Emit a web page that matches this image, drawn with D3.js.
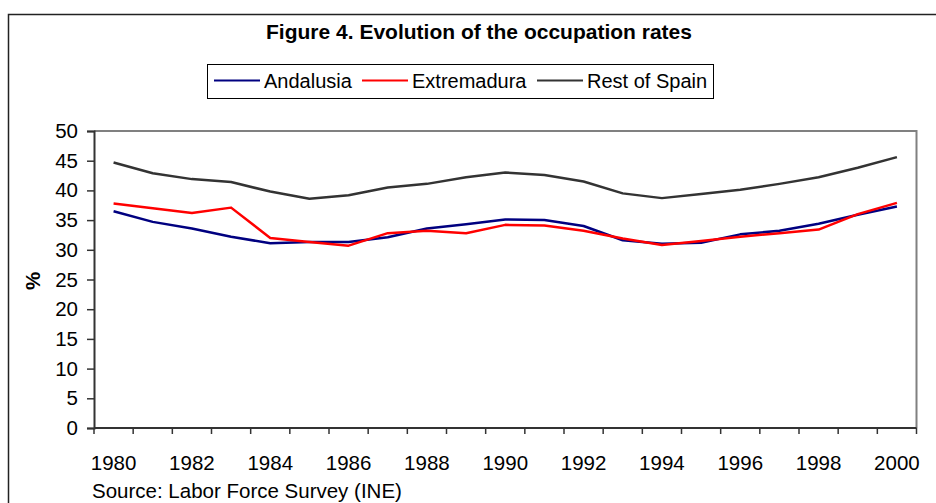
<!DOCTYPE html>
<html><head><meta charset="utf-8">
<script src="https://cdn.jsdelivr.net/npm/d3@7/dist/d3.min.js"></script>
<style>body{margin:0;background:#fff}svg{display:block;font-family:"Liberation Sans",Arial,sans-serif}</style>
</head><body><svg id="c" width="936" height="503"></svg>
<script>
const years = d3.range(1980, 2001);
const andalusia   = [36.5,34.7,33.6,32.2,31.1,31.3,31.3,32.1,33.6,34.3,35.1,35.0,34.0,31.6,31.0,31.2,32.6,33.2,34.4,35.9,37.3];
const extremadura = [37.8,37.0,36.2,37.1,32.0,31.3,30.7,32.8,33.2,32.8,34.2,34.1,33.2,31.9,30.8,31.5,32.2,32.8,33.4,36.0,37.9];
const restOfSpain = [44.7,42.9,41.9,41.4,39.8,38.6,39.2,40.5,41.1,42.2,43.0,42.6,41.5,39.5,38.7,39.4,40.1,41.1,42.2,43.8,45.6];
const yTicks = [0,5,10,15,20,25,30,35,40,45,50];
const xLabels = [1980,1982,1984,1986,1988,1990,1992,1994,1996,1998,2000];
const seriesNames = ["Andalusia","Extremadura","Rest of Spain"];
const seriesColors = ["#000080","#ff0000","#333333"];
const seriesData = [andalusia, extremadura, restOfSpain];

const FS = 20.5;
const svg = d3.select("#c");
// outer frame
svg.append("rect").attr("x",8.5).attr("y",14.5).attr("width",1000).attr("height",600)
  .attr("fill","#fff").attr("stroke","#222").attr("stroke-width",1.5);

const L=94, R=916.5, T=131, B=428;
const x = d3.scaleBand().domain(years).range([L,R]);
const y = d3.scaleLinear().domain([0,50]).range([B,T]);

// plot border top/right gray
svg.append("path").attr("d",`M${L},${T}H${R}V${B}`).attr("fill","none").attr("stroke","#808080").attr("stroke-width",2);

// y axis
const ya = svg.append("g").attr("transform",`translate(${L},0)`)
  .call(d3.axisLeft(y).tickValues(yTicks).tickSize(7).tickPadding(9).tickFormat(d3.format("d")));
ya.select(".domain").attr("stroke","#333").attr("stroke-width",2);
ya.selectAll(".tick line").attr("stroke","#333").attr("stroke-width",1.5);
ya.selectAll("text").attr("font-size",FS).attr("fill","#000").attr("font-family","Liberation Sans, Arial, sans-serif");

// x axis: ticks at band edges
const xa = svg.append("g").attr("transform",`translate(0,${B})`);
xa.append("line").attr("x1",L).attr("x2",R).attr("stroke","#333").attr("stroke-width",2);
const edges = years.map(d=>x(d)).concat([x(years[years.length-1])+x.bandwidth()]);
xa.selectAll("line.t").data(edges).join("line").attr("class","t")
  .attr("x1",d=>d).attr("x2",d=>d).attr("y1",0).attr("y2",6).attr("stroke","#333").attr("stroke-width",1.5);
xa.selectAll("text").data(xLabels).join("text")
  .attr("x",d=>x(d)+x.bandwidth()/2).attr("y",42).attr("text-anchor","middle")
  .attr("font-size",FS).attr("fill","#000").text(d=>d);

// lines
const line = d3.line().x((d,i)=>x(years[i])+x.bandwidth()/2).y(d=>y(d));
seriesData.forEach((s,k)=>{
  svg.append("path").datum(s).attr("d",line).attr("fill","none")
    .attr("stroke",seriesColors[k]).attr("stroke-width",2.5).attr("stroke-linejoin","round");
});

// title
svg.append("text").attr("x",479).attr("y",39).attr("text-anchor","middle")
  .attr("font-size",21).attr("font-weight","bold").text("Figure 4. Evolution of the occupation rates");

// legend
svg.append("rect").attr("x",207.5).attr("y",64.5).attr("width",506).attr("height",34)
  .attr("fill","#fff").attr("stroke","#000").attr("stroke-width",1);
const legX = [214,362,537];
seriesNames.forEach((n,k)=>{
  svg.append("line").attr("x1",legX[k]).attr("x2",legX[k]+46).attr("y1",80.5).attr("y2",80.5)
    .attr("stroke",seriesColors[k]).attr("stroke-width",2);
  svg.append("text").attr("x",legX[k]+50).attr("y",88).attr("font-size",20).text(n);
});

// y label
svg.append("text").attr("transform","translate(40,281) rotate(-90)").attr("text-anchor","middle")
  .attr("font-size",FS).attr("font-weight","bold").text("%");

// source
svg.append("text").attr("x",92).attr("y",498).attr("font-size",FS).text("Source: Labor Force Survey (INE)");
</script></body></html>
